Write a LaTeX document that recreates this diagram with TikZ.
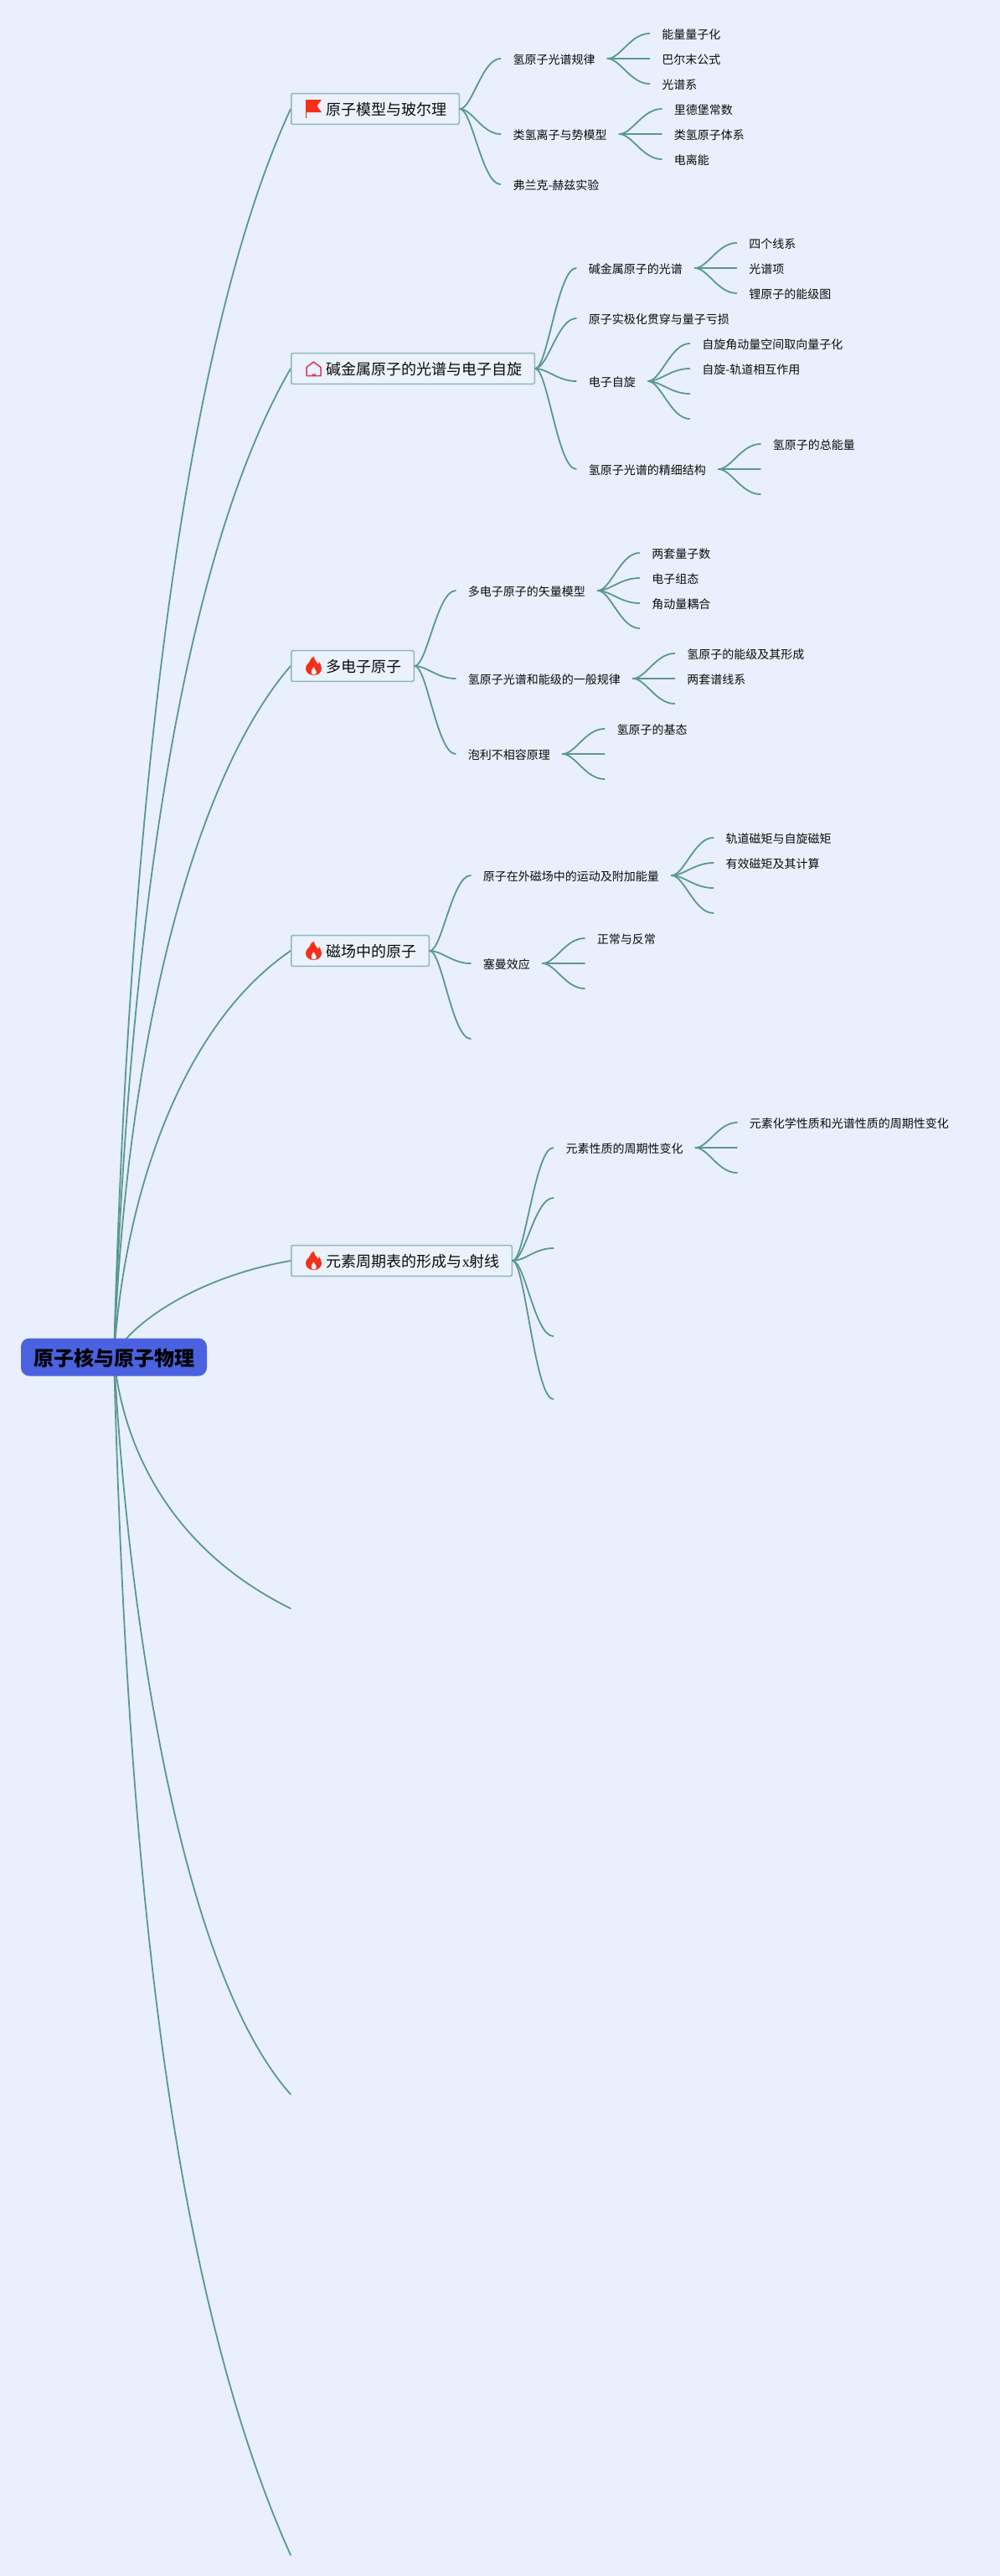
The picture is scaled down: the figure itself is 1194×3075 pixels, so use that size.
\documentclass[tikz,border=0pt]{standalone}
\usepackage{fontspec}
\usetikzlibrary{calc,backgrounds}
\setmainfont{Noto Sans CJK SC}
\newfontfamily\latinx{Liberation Serif}
\definecolor{pagebg}{HTML}{E9EFFC}
\definecolor{linkc}{HTML}{5A988F}
\definecolor{boxline}{HTML}{8FB8BC}
\definecolor{boxfill}{HTML}{EBF2FB}
\definecolor{rootfill}{HTML}{4A62E0}
\definecolor{textc}{HTML}{0C0C0C}
\definecolor{firec}{HTML}{F5301A}
\definecolor{housec}{HTML}{D9365F}
\tikzset{
  conn/.style={draw=linkc,line width=0.9pt,line cap=round},
  rootbox/.style={fill=rootfill,rounded corners=5pt,minimum width=111pt,minimum height=22.5pt,inner sep=0pt,
    text=black,font=\fontsize{12pt}{14pt}\selectfont\bfseries,text height=12pt,text depth=1.2pt},
  topic/.style={anchor=west,draw=boxline,fill=boxfill,line width=0.8pt,rounded corners=1pt,minimum height=18.35pt,
    inner ysep=0pt,inner xsep=7.25pt,text=textc,font=\fontsize{9pt}{11pt}\selectfont,text height=9pt,text depth=1.16pt},
  leaf/.style={anchor=west,inner ysep=0pt,inner xsep=7.25pt,text=textc,font=\fontsize{7pt}{9pt}\selectfont,text height=7pt,text depth=0.7pt},
}
\newcommand\lnk[2]{\draw[conn] let \p1=(#1),\p2=(#2) in (\p1) .. controls ({\x1+0.3*(\x2-\x1)},\y1) and ({\x1+0.55*(\x2-\x1)},\y2) .. (\p2);}
\newcommand\iconflame[1]{\begin{scope}[shift={(#1)}]
  \fill[firec,even odd rule] (27.5,11) .. controls (22,11) and (18,7.5) .. (18,3) .. controls (18,-2) and (22,-3) .. (23,-6) .. controls (23.5,-8) and (25,-10) .. (28,-11.5) .. controls (27.5,-8) and (31,-5) .. (33,-2) .. controls (33.5,-3) and (34,-4) .. (34,-5) .. controls (36,-2) and (37,1) .. (37,3) .. controls (37,7.5) and (33,11) .. (27.5,11) -- cycle
  (27.5,10.5) .. controls (24.5,10.5) and (24,7) .. (25,5) .. controls (26,3.5) and (27,3) .. (27.5,1) .. controls (28.5,3.5) and (31,5) .. (31,7.5) .. controls (31,9.5) and (29.5,10.5) .. (27.5,10.5) -- cycle;
\end{scope}}
\begin{document}
\begin{tikzpicture}[x=0.5pt,y=-0.5pt]
\begin{scope}[on background layer]
  \fill[pagebg] (0,0) rectangle (1194,3075);
\end{scope}
\useasboundingbox (0,0) rectangle (1194,3075);

\node[rootbox] (root) at (136,1620) {原子核与原子物理};

\node[topic] (n1) at (347,130) {\hspace*{13.75pt}原子模型与玻尔理};
\node[topic] (n2) at (347,440) {\hspace*{13.75pt}碱金属原子的光谱与电子自旋};
\node[topic] (n3) at (347,795) {\hspace*{13.75pt}多电子原子};
\node[topic] (n4) at (347,1135) {\hspace*{13.75pt}磁场中的原子};
\node[topic] (n5) at (347,1505) {\hspace*{13.75pt}元素周期表的形成与{\latinx x}射线};
\coordinate (n6) at (347,1920);
\coordinate (n7) at (347,2500);
\coordinate (n8) at (347,3050);

% icons
\begin{scope}[shift={(n1.west)}]
  \fill[firec] (18,-11) -- (37,-11) -- (31.5,-3.5) -- (37,4) -- (19,4) -- (19,11) -- (18,11) -- cycle;
\end{scope}
\begin{scope}[shift={(n2.west)}]
  \draw[housec,line width=0.75pt,line join=round] (19,8.5) -- (19,-1.5) -- (27.5,-8) -- (36,-1.5) -- (36,8.5) -- cycle;
  \fill[housec] (25.5,8.5) -- (25.5,5) arc[start angle=180,end angle=0,radius=2] -- (29.5,8.5) -- cycle;
\end{scope}
\iconflame{n3.west}
\iconflame{n4.west}
\iconflame{n5.west}

% topic 1
\node[leaf] (a1) at (597.6,70) {氢原子光谱规律};
\node[leaf] (a2) at (597.6,160) {类氢离子与势模型};
\node[leaf] (a3) at (597.6,220) {弗兰克-赫兹实验};
\node[leaf] (a11) at (775.5,40) {能量量子化};
\node[leaf] (a12) at (775.5,70) {巴尔末公式};
\node[leaf] (a13) at (775.5,100) {光谱系};
\node[leaf] (a21) at (790,130) {里德堡常数};
\node[leaf] (a22) at (790,160) {类氢原子体系};
\node[leaf] (a23) at (790,190) {电离能};

% topic 2
\node[leaf] (b1) at (688,320) {碱金属原子的光谱};
\node[leaf] (b2) at (688,380) {原子实极化贯穿与量子亏损};
\node[leaf] (b3) at (688,455) {电子自旋};
\node[leaf] (b4) at (688,560) {氢原子光谱的精细结构};
\node[leaf] (b11) at (879.5,290) {四个线系};
\node[leaf] (b12) at (879.5,320) {光谱项};
\node[leaf] (b13) at (879.5,350) {锂原子的能级图};
\node[leaf] (b31) at (823.5,410) {自旋角动量空间取向量子化};
\node[leaf] (b32) at (823.5,440) {自旋-轨道相互作用};
\coordinate (b33) at (823.5,470);
\coordinate (b34) at (823.5,500);
\node[leaf] (b41) at (908,530) {氢原子的总能量};
\coordinate (b42) at (908,560);
\coordinate (b43) at (908,590);

% topic 3
\node[leaf] (c1) at (544,705) {多电子原子的矢量模型};
\node[leaf] (c2) at (544,810) {氢原子光谱和能级的一般规律};
\node[leaf] (c3) at (544,900) {泡利不相容原理};
\node[leaf] (c11) at (763.4,660) {两套量子数};
\node[leaf] (c12) at (763.4,690) {电子组态};
\node[leaf] (c13) at (763.4,720) {角动量耦合};
\coordinate (c14) at (763.4,750);
\node[leaf] (c21) at (805.5,780) {氢原子的能级及其形成};
\node[leaf] (c22) at (805.5,810) {两套谱线系};
\coordinate (c23) at (805.5,840);
\node[leaf] (c31) at (721.7,870) {氢原子的基态};
\coordinate (c32) at (721.7,900);
\coordinate (c33) at (721.7,930);

% topic 4
\node[leaf] (d1) at (562,1045) {原子在外磁场中的运动及附加能量};
\node[leaf] (d2) at (562,1150) {塞曼效应};
\coordinate (d3) at (562,1240);
\node[leaf] (d11) at (851.7,1000) {轨道磁矩与自旋磁矩};
\node[leaf] (d12) at (851.7,1030) {有效磁矩及其计算};
\coordinate (d13) at (851.7,1060);
\coordinate (d14) at (851.7,1090);
\node[leaf] (d21) at (698,1120) {正常与反常};
\coordinate (d22) at (698,1150);
\coordinate (d23) at (698,1180);

% topic 5
\node[leaf] (e1) at (660.6,1370) {元素性质的周期性变化};
\coordinate (e2) at (660.6,1430);
\coordinate (e3) at (660.6,1490);
\coordinate (e4) at (660.6,1595);
\coordinate (e5) at (660.6,1670);
\node[leaf] (e11) at (880,1340) {元素化学性质和光谱性质的周期性变化};
\coordinate (e12) at (880,1370);
\coordinate (e13) at (880,1400);

\begin{scope}[on background layer]
  \draw[conn] (root.center) .. controls (150,1100) and (200,450) .. (n1.west);
  \draw[conn] (root.center) .. controls (150,1207) and (200,694) .. (n2.west);
  \draw[conn] (root.center) .. controls (150,1250) and (230,930) .. (n3.west);
  \draw[conn] (root.center) .. controls (148,1430) and (215,1225) .. (n4.west);
  \draw[conn] (root.center) .. controls (150,1585) and (230,1525) .. (n5.west);
  \draw[conn] (root.center) .. controls (147,1730) and (205,1850) .. (n6);
  \draw[conn] (root.center) .. controls (155,1960) and (222,2360) .. (n7);
  \draw[conn] (root.center) .. controls (150,2140) and (190,2700) .. (n8);
\end{scope}

\lnk{n1.east}{a1.west}\lnk{n1.east}{a2.west}\lnk{n1.east}{a3.west}
\lnk{a1.east}{a11.west}\lnk{a1.east}{a12.west}\lnk{a1.east}{a13.west}
\lnk{a2.east}{a21.west}\lnk{a2.east}{a22.west}\lnk{a2.east}{a23.west}

\lnk{n2.east}{b1.west}\lnk{n2.east}{b2.west}\lnk{n2.east}{b3.west}\lnk{n2.east}{b4.west}
\lnk{b1.east}{b11.west}\lnk{b1.east}{b12.west}\lnk{b1.east}{b13.west}
\lnk{b3.east}{b31.west}\lnk{b3.east}{b32.west}\lnk{b3.east}{b33}\lnk{b3.east}{b34}
\lnk{b4.east}{b41.west}\lnk{b4.east}{b42}\lnk{b4.east}{b43}

\lnk{n3.east}{c1.west}\lnk{n3.east}{c2.west}\lnk{n3.east}{c3.west}
\lnk{c1.east}{c11.west}\lnk{c1.east}{c12.west}\lnk{c1.east}{c13.west}\lnk{c1.east}{c14}
\lnk{c2.east}{c21.west}\lnk{c2.east}{c22.west}\lnk{c2.east}{c23}
\lnk{c3.east}{c31.west}\lnk{c3.east}{c32}\lnk{c3.east}{c33}

\lnk{n4.east}{d1.west}\lnk{n4.east}{d2.west}\lnk{n4.east}{d3}
\lnk{d1.east}{d11.west}\lnk{d1.east}{d12.west}\lnk{d1.east}{d13}\lnk{d1.east}{d14}
\lnk{d2.east}{d21.west}\lnk{d2.east}{d22}\lnk{d2.east}{d23}

\lnk{n5.east}{e1.west}\lnk{n5.east}{e2}\lnk{n5.east}{e3}\lnk{n5.east}{e4}\lnk{n5.east}{e5}
\lnk{e1.east}{e11.west}\lnk{e1.east}{e12}\lnk{e1.east}{e13}
\end{tikzpicture}
\end{document}
